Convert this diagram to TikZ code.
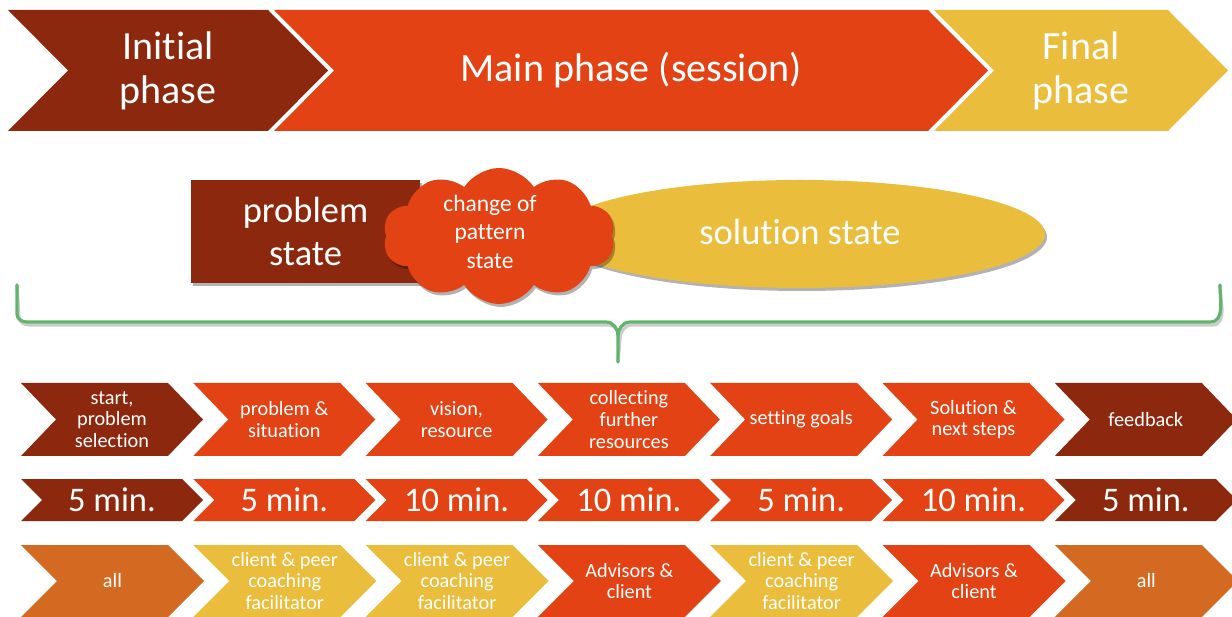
\documentclass[tikz,border=0pt]{standalone}
\usepackage{fontspec}
\setmainfont{Carlito}[Ligatures=NoCommon]
\usetikzlibrary{shapes.symbols,shapes.geometric,shadows}
\definecolor{cbrown}{HTML}{8C280E}
\definecolor{cred}{HTML}{E34214}
\definecolor{cyellow}{HTML}{EBBD3C}
\definecolor{corange}{HTML}{D46A22}
\definecolor{cgreen}{HTML}{62B46C}
\tikzset{
  toplbl/.style={text=white, align=center, font=\fontsize{40}{44}\selectfont},
  midlbl/.style={text=white, align=center, font=\fontsize{36.5}{43}\selectfont},
  cloudlbl/.style={text=white, align=center, font=\fontsize{23.5}{28.5}\selectfont},
  rowlbl/.style={text=white, align=center, font=\fontsize{20.3}{21.8}\selectfont},
  minlbl/.style={text=white, align=center, font=\fontsize{34.5}{36}\selectfont},
  shad/.style={drop shadow={shadow xshift=2pt, shadow yshift=-3pt, opacity=0.3, fill=black}},
}
% name, x, top, W, H, D, colour, label style, text
\newcommand\chevshape[9]{%
  \fill[#7] (#2,#3) -- ({#2+#4-#6},#3) -- ({#2+#4},{#3+#5/2}) -- ({#2+#4-#6},{#3+#5})
    -- (#2,{#3+#5}) -- ({#2+#6},{#3+#5/2}) -- cycle;
  \node[#8] (#1) at ({#2+#4/2},{#3+#5/2}) {#9};}
\begin{document}
\begin{tikzpicture}[x=1pt,y=-1pt]
\useasboundingbox (0,0) rectangle (1232,617);
\clip (0,0) rectangle (1232,617);
% top phases
\chevshape{initial}{8}{10}{320}{121}{60}{cbrown}{toplbl}{Initial\\phase}
\chevshape{main}{274}{10}{714}{121}{60}{cred}{toplbl}{Main phase (session)}
\chevshape{final}{934}{10}{294}{121}{60}{cyellow}{toplbl}{Final\\phase}
% states
\node[rectangle, fill=cbrown, minimum width=229pt, minimum height=103pt, shad, midlbl]
  (prob) at (305.5,231.5) {problem\\state};
\node[ellipse, fill=cyellow, minimum width=490pt, minimum height=108pt, shad]
  (sol) at (800,234) {};
\node[midlbl] (soltext) at (800,232) {solution state};
\node[cloud, cloud puffs=10, cloud puff arc=115, cloud ignores aspect, fill=cred,
  minimum width=232pt, minimum height=136pt, shad] (cloud) at (499,236) {};
\node[cloudlbl] (cloudtext) at (490,231.5) {change of\\pattern\\state};
% brace
\path (17,285) coordinate (bl) (1220,285) coordinate (br) (618,362) coordinate (btip);
\begin{scope}[line width=3.2pt, line cap=round]
\draw[black, opacity=0.2, shift={(2,3)}]
  (bl) -- (17,314) to[out=-90,in=180] (27,322) -- (606,322) to[out=0,in=90] (618,336) -- (btip)
  (618,336) to[out=90,in=180] (630,322) -- (1210,322) to[out=0,in=-90] (br);
\draw[cgreen]
  (bl) -- (17,314) to[out=-90,in=180] (27,322) -- (606,322) to[out=0,in=90] (618,336) -- (btip)
  (618,336) to[out=90,in=180] (630,322) -- (1210,322) to[out=0,in=-90] (br);
\end{scope}
% row 1
\chevshape{a1}{21}{383}{182}{73}{35}{cbrown}{rowlbl}{start,\\problem\\selection}
\chevshape{a2}{193.3}{383}{182}{73}{35}{cred}{rowlbl}{problem \&\\situation}
\chevshape{a3}{365.6}{383}{182}{73}{35}{cred}{rowlbl}{vision,\\resource}
\chevshape{a4}{537.9}{383}{182}{73}{35}{cred}{rowlbl}{collecting\\further\\resources}
\chevshape{a5}{710.2}{383}{182}{73}{35}{cred}{rowlbl}{setting goals}
\chevshape{a6}{882.5}{383}{182}{73}{35}{cred}{rowlbl}{Solution \&\\next steps}
\chevshape{a7}{1054.8}{383}{182}{73}{35}{cbrown}{rowlbl}{feedback}
% row 2
\chevshape{b1}{21}{479}{182}{42}{21}{cbrown}{minlbl}{5 min.}
\chevshape{b2}{193.3}{479}{182}{42}{21}{cred}{minlbl}{5 min.}
\chevshape{b3}{365.6}{479}{182}{42}{21}{cred}{minlbl}{10 min.}
\chevshape{b4}{537.9}{479}{182}{42}{21}{cred}{minlbl}{10 min.}
\chevshape{b5}{710.2}{479}{182}{42}{21}{cred}{minlbl}{5 min.}
\chevshape{b6}{882.5}{479}{182}{42}{21}{cred}{minlbl}{10 min.}
\chevshape{b7}{1054.8}{479}{182}{42}{21}{cbrown}{minlbl}{5 min.}
% row 3
\chevshape{c1}{21}{545}{183}{72}{36}{corange}{rowlbl}{all}
\chevshape{c2}{193.3}{545}{183}{72}{36}{cyellow}{rowlbl}{client \& peer\\coaching\\facilitator}
\chevshape{c3}{365.6}{545}{183}{72}{36}{cyellow}{rowlbl}{client \& peer\\coaching\\facilitator}
\chevshape{c4}{537.9}{545}{183}{72}{36}{cred}{rowlbl}{Advisors \&\\client}
\chevshape{c5}{710.2}{545}{183}{72}{36}{cyellow}{rowlbl}{client \& peer\\coaching\\facilitator}
\chevshape{c6}{882.5}{545}{183}{72}{36}{cred}{rowlbl}{Advisors \&\\client}
\chevshape{c7}{1054.8}{545}{183}{72}{36}{corange}{rowlbl}{all}
\end{tikzpicture}
\end{document}
